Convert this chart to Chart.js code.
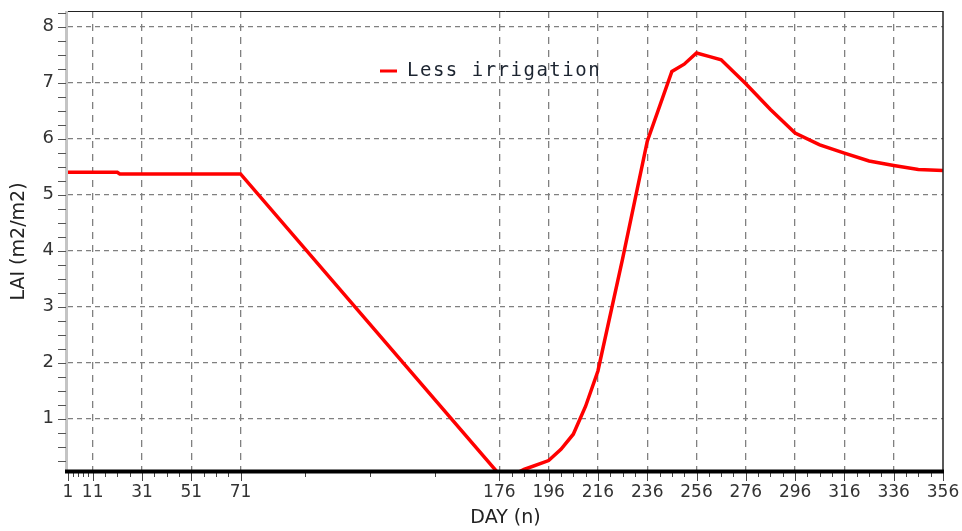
<!DOCTYPE html>
<html>
<head>
<meta charset="utf-8">
<script src="https://cdn.jsdelivr.net/npm/chart.js@4.4.1/dist/chart.umd.min.js"></script>
<style>
  html, body { margin: 0; padding: 0; background: #fff; }
</style>
</head>
<body>
<canvas id="laiChart" width="962" height="531"></canvas>
<script>
// LAI through the season, less irrigation treatment
const days = [1, 21, 22, 71, 176, 182, 186, 196, 201, 206, 211, 216, 226, 236, 246, 251, 256, 261, 266, 276, 286, 296, 306, 316, 326, 336, 346, 356];
const lai  = [5.40, 5.40, 5.37, 5.37, 0, 0, 0.09, 0.25, 0.45, 0.72, 1.22, 1.85, 3.85, 5.95, 7.20, 7.33, 7.53, 7.47, 7.41, 6.98, 6.52, 6.10, 5.89, 5.74, 5.60, 5.52, 5.45, 5.43];
const seriesLabel = 'Less irrigation';

// Axis ticks
const xTickDays = [1, 11, 31, 51, 71, 176, 196, 216, 236, 256, 276, 296, 316, 336, 356];
const xMinorDays = [3, 5, 7, 9, 16, 21, 26, 36, 41, 46, 56, 61, 66, 97.25, 123.5, 149.75];
const yTickValues = [1, 2, 3, 4, 5, 6, 7, 8];

// minor ticks every 5 days on the later stretch, every 0.25 on LAI
for (let d = 181; d < 356; d += 5) {
    if (!xTickDays.includes(d)) xMinorDays.push(d);
}
const yMinorValues = [];
for (let v = 0.25; v <= 8.25; v += 0.25) {
    if (v % 1 !== 0) yMinorValues.push(v);
}

const tickFont = { family: 'DejaVu Sans', size: 17 };
const titleFont = { family: 'DejaVu Sans', size: 19 };
const gridColor = '#808080';

// Frame, axis lines, tick marks and the inline legend
const framePlugin = {
    id: 'frame',
    afterDatasetsDraw(chart) {
        const { ctx, chartArea: a, scales: { x, y } } = chart;
        ctx.save();

        // top and right border
        ctx.strokeStyle = '#222';
        ctx.lineWidth = 1;
        ctx.beginPath();
        ctx.moveTo(a.left, a.top + 0.5);
        ctx.lineTo(a.right, a.top + 0.5);
        ctx.stroke();
        ctx.lineWidth = 1.5;
        ctx.beginPath();
        ctx.moveTo(a.right, a.top);
        ctx.lineTo(a.right, a.bottom);
        ctx.stroke();

        // left axis
        ctx.strokeStyle = '#c4c4c4';
        ctx.lineWidth = 3;
        ctx.beginPath();
        ctx.moveTo(a.left - 1.5, a.top);
        ctx.lineTo(a.left - 1.5, a.bottom);
        ctx.stroke();

        // y tick marks
        ctx.strokeStyle = '#555';
        ctx.lineWidth = 1;
        yTickValues.concat(yMinorValues).forEach(v => {
            const py = Math.round(y.getPixelForValue(v)) + 0.5;
            ctx.beginPath();
            ctx.moveTo(a.left - 10, py);
            ctx.lineTo(a.left - 2, py);
            ctx.stroke();
        });

        // x tick marks
        ctx.strokeStyle = '#444';
        const drawXTick = (d, len) => {
            const px = Math.round(x.getPixelForValue(d)) + 0.5;
            ctx.beginPath();
            ctx.moveTo(px, a.bottom);
            ctx.lineTo(px, a.bottom + len);
            ctx.stroke();
        };
        xTickDays.forEach(d => drawXTick(d, 9));
        xMinorDays.forEach(d => drawXTick(d, 5));

        // bottom axis
        ctx.strokeStyle = '#000';
        ctx.lineWidth = 4;
        ctx.beginPath();
        ctx.moveTo(a.left - 3, a.bottom - 0.5);
        ctx.lineTo(a.right + 1, a.bottom - 0.5);
        ctx.stroke();

        // legend
        const ds = chart.data.datasets[0];
        ctx.strokeStyle = ds.borderColor;
        ctx.lineWidth = 3;
        ctx.beginPath();
        ctx.moveTo(380, 71);
        ctx.lineTo(397, 71);
        ctx.stroke();
        ctx.fillStyle = '#1c2430';
        ctx.font = '19px "DejaVu Sans Mono"';
        ctx.letterSpacing = '1.5px';
        ctx.textBaseline = 'middle';
        ctx.textAlign = 'left';
        ctx.fillText(ds.label, 407, 71);

        ctx.restore();
    }
};

const ctx = document.getElementById('laiChart').getContext('2d');
const chart = new Chart(ctx, {
    type: 'line',
    data: {
        datasets: [{
            label: seriesLabel,
            data: days.map((d, i) => ({ x: d, y: lai[i] })),
            borderColor: '#ff0000',
            borderWidth: 3.5,
            pointRadius: 0,
            tension: 0,
            fill: false
        }]
    },
    options: {
        responsive: false,
        animation: false,
        layout: {
            padding: { top: 11, right: 19, left: 0, bottom: 0 }
        },
        plugins: {
            legend: { display: false },
            tooltip: { enabled: false }
        },
        scales: {
            x: {
                type: 'linear',
                min: 1,
                max: 356,
                afterBuildTicks: scale => {
                    scale.ticks = xTickDays.map(v => ({ value: v }));
                },
                afterFit: scale => {
                    scale.height = 59;
                    scale.paddingLeft = 0;
                    scale.paddingRight = 0;
                },
                ticks: {
                    autoSkip: false,
                    maxRotation: 0,
                    padding: 10,
                    color: '#333',
                    font: tickFont,
                    callback: v => String(v)
                },
                grid: {
                    drawTicks: false,
                    lineWidth: 1.3,
                    color: c => {
                        if (!c.tick || c.tick.value === 1 || c.tick.value === 356) return 'rgba(0,0,0,0)';
                        return gridColor;
                    }
                },
                border: { display: false, dash: [7, 6] },
                title: {
                    display: true,
                    text: 'DAY (n)',
                    color: '#222',
                    font: titleFont,
                    padding: { top: 0, bottom: 2 }
                }
            },
            y: {
                min: 0.045,
                max: 8.28,
                afterBuildTicks: scale => {
                    scale.ticks = yTickValues.map(v => ({ value: v }));
                },
                afterFit: scale => {
                    scale.width = 68;
                    scale.paddingTop = 0;
                    scale.paddingBottom = 0;
                },
                ticks: {
                    padding: 14,
                    color: '#333',
                    font: { family: 'DejaVu Sans', size: 18 },
                    callback: v => String(v)
                },
                grid: {
                    drawTicks: false,
                    lineWidth: 1.3,
                    color: c => (c.tick ? gridColor : 'rgba(0,0,0,0)')
                },
                border: { display: false, dash: [5, 4] },
                title: {
                    display: true,
                    text: 'LAI (m2/m2)',
                    color: '#222',
                    font: titleFont,
                    padding: { top: 8 }
                }
            }
        }
    },
    plugins: [framePlugin]
});
</script>
</body>
</html>
